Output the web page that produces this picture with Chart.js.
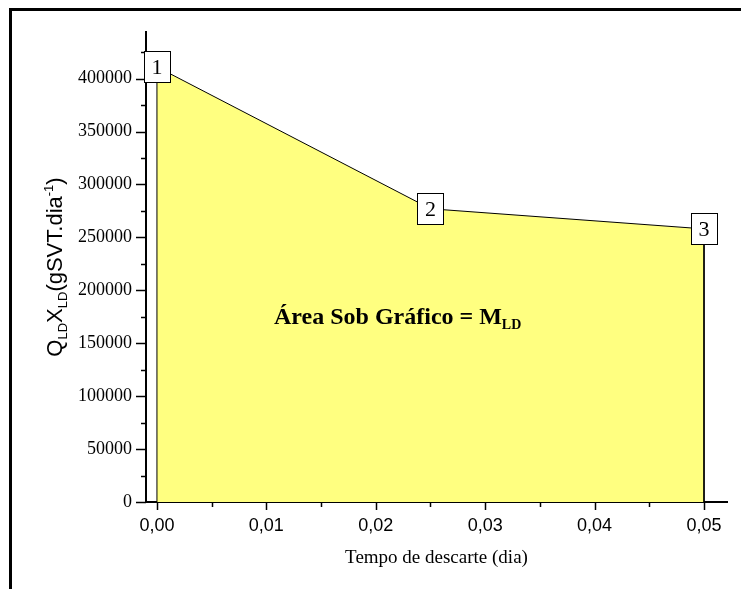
<!DOCTYPE html>
<html>
<head>
<meta charset="utf-8">
<script src="https://cdn.jsdelivr.net/npm/chart.js@4.4.1/dist/chart.umd.min.js"></script>
<style>
  html, body { margin: 0; padding: 0; background: #fff; }
  #wrap { width: 741px; height: 589px; position: relative; }
</style>
</head>
<body>
<div id="wrap"><canvas id="chart"></canvas></div>
<script>
// data
const tempo = [0, 0.025, 0.05];
const carga = [411000, 277000, 258000];
const pontoLabels = ['1', '2', '3'];
const xTickValues = [0, 0.005, 0.01, 0.015, 0.02, 0.025, 0.03, 0.035, 0.04, 0.045, 0.05];
const yTickValues = [0, 25000, 50000, 75000, 100000, 125000, 150000, 175000, 200000,
    225000, 250000, 275000, 300000, 325000, 350000, 375000, 400000, 425000];

function isMajorX(v) {
    return Math.abs(v * 100 - Math.round(v * 100)) < 1e-9;
}
function isMajorY(v) {
    return v % 50000 === 0;
}

// closed outline: down to zero at both ends so the fill gets its vertical edges
let area = [{ x: tempo[0], y: 0 }];
for (let i = 0; i < tempo.length; i++) {
    area.push({ x: tempo[i], y: carga[i] });
}
area.push({ x: tempo[tempo.length - 1], y: 0 });

const extras = {
    id: 'extras',
    beforeDraw(chart) {
        const ctx = chart.ctx;
        ctx.save();
        ctx.strokeStyle = '#000';
        ctx.lineWidth = 3;
        ctx.beginPath();
        ctx.moveTo(10.5, 589);
        ctx.lineTo(10.5, 9.5);
        ctx.lineTo(741, 9.5);
        ctx.stroke();
        ctx.restore();
    },
    afterDraw(chart) {
        const ctx = chart.ctx;
        const xs = chart.scales.x, ys = chart.scales.y;
        const area = chart.chartArea;
        ctx.save();
        ctx.strokeStyle = '#000';
        ctx.lineWidth = 1.5;
        // tick marks, long for major, short for minor
        yTickValues.forEach(v => {
            const py = Math.round(ys.getPixelForValue(v)) + 0.5;
            const len = isMajorY(v) ? 10 : 5;
            ctx.beginPath();
            ctx.moveTo(area.left - len, py);
            ctx.lineTo(area.left, py);
            ctx.stroke();
        });
        xTickValues.forEach(v => {
            const px = Math.round(xs.getPixelForValue(v)) + 0.5;
            const len = isMajorX(v) ? 8 : 5;
            ctx.beginPath();
            ctx.moveTo(px, area.bottom);
            ctx.lineTo(px, area.bottom + len);
            ctx.stroke();
        });

        // numbered boxes on the points
        ctx.lineWidth = 1;
        ctx.font = '22px "Liberation Serif"';
        ctx.textAlign = 'center';
        ctx.textBaseline = 'middle';
        for (let i = 0; i < tempo.length; i++) {
            const px = xs.getPixelForValue(tempo[i]);
            const py = ys.getPixelForValue(carga[i]);
            const w = 26, h = 31;
            const bx = Math.round(px - w / 2) + 0.5, by = Math.round(py - h / 2) + 0.5;
            ctx.fillStyle = '#fff';
            ctx.fillRect(bx, by, w, h);
            ctx.strokeRect(bx, by, w, h);
            ctx.fillStyle = '#000';
            ctx.fillText(pontoLabels[i], px, py + 1);
        }

        // area annotation
        const ax = xs.getPixelForValue(0.022);
        const ay = ys.getPixelForValue(168000);
        ctx.textAlign = 'left';
        ctx.textBaseline = 'alphabetic';
        const big = 'bold 24px "Liberation Serif"', small = 'bold 14px "Liberation Serif"';
        const t1 = 'Área Sob Gráfico = M', t2 = 'LD';
        ctx.font = big;
        const w1 = ctx.measureText(t1).width;
        ctx.font = small;
        const w2 = ctx.measureText(t2).width;
        const sx = ax - (w1 + w2) / 2;
        ctx.font = big;
        ctx.fillText(t1, sx, ay);
        ctx.font = small;
        ctx.fillText(t2, sx + w1, ay + 5);

        // y axis title with sub/superscripts
        const parts = [
            ['Q', 0, 22], ['LD', 5, 13], ['X', 0, 22], ['LD', 5, 13],
            ['(gSVT.dia', 0, 22], ['-1', -9, 13], [')', 0, 22]
        ];
        let total = 0;
        parts.forEach(p => {
            ctx.font = p[2] + 'px "Liberation Sans"';
            total += ctx.measureText(p[0]).width;
        });
        ctx.translate(62, (area.top + area.bottom) / 2);
        ctx.rotate(-Math.PI / 2);
        let cx = -total / 2;
        parts.forEach(p => {
            ctx.font = p[2] + 'px "Liberation Sans"';
            ctx.fillText(p[0], cx, p[1]);
            cx += ctx.measureText(p[0]).width;
        });
        ctx.restore();
    }
};

new Chart(document.getElementById('chart'), {
    type: 'line',
    data: {
        datasets: [{
            data: area,
            fill: 'origin',
            backgroundColor: '#ffff80',
            borderColor: '#000',
            borderWidth: 1,
            pointRadius: 0,
            tension: 0,
        }],
    },
    options: {
        responsive: true,
        maintainAspectRatio: false,
        animation: false,
        layout: { padding: { top: 32, right: 14, left: 0, bottom: 0 } },
        plugins: {
            legend: { display: false },
            tooltip: { enabled: false },
        },
        scales: {
            x: {
                type: 'linear',
                min: -0.001,
                max: 0.0521,
                afterBuildTicks: s => { s.ticks = xTickValues.map(v => ({ value: v })); },
                afterFit: s => { s.height = 87; },
                ticks: {
                    autoSkip: false,
                    maxRotation: 0,
                    padding: 5,
                    color: '#000',
                    font: { family: 'Liberation Sans', size: 18 },
                    callback: v => isMajorX(v) ? v.toFixed(2).replace('.', ',') : '',
                },
                grid: { color: 'rgba(0,0,0,0)', drawOnChartArea: false, tickLength: 8 },
                border: { display: true, color: '#000', width: 2 },
                title: {
                    display: true,
                    text: 'Tempo de descarte (dia)',
                    color: '#000',
                    font: { family: 'Liberation Serif', size: 19 },
                    padding: { top: 0, bottom: 20 },
                },
            },
            y: {
                type: 'linear',
                min: 0,
                max: 444000,
                afterBuildTicks: s => { s.ticks = yTickValues.map(v => ({ value: v })); },
                afterFit: s => { s.width = 146; },
                ticks: {
                    autoSkip: false,
                    padding: 4,
                    color: '#000',
                    font: { family: 'Liberation Serif', size: 18 },
                    callback: v => isMajorY(v) ? String(v) : '',
                },
                grid: { color: 'rgba(0,0,0,0)', drawOnChartArea: false, tickLength: 10 },
                border: { display: true, color: '#000', width: 2 },
            },
        },
    },
    plugins: [extras],
});
</script>
</body>
</html>
